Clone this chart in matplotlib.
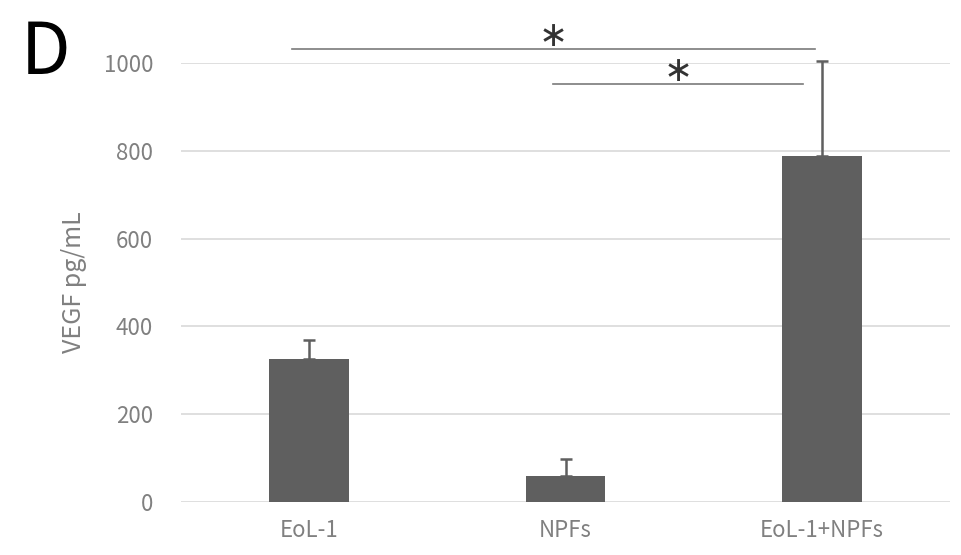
import matplotlib
matplotlib.use('Agg')
import matplotlib.pyplot as plt

plt.rcParams['font.family'] = ['Noto Sans CJK JP', 'DejaVu Sans']

groups = ['EoL-1', 'NPFs', 'EoL-1+NPFs']
vegf = [325, 59, 789]
vegf_err = [43, 39, 216]

# significance brackets: (left group, right group, height)
brackets = [(0, 2, 1032), (1, 2, 952)]
yticks = [0, 200, 400, 600, 800, 1000]

bar_color = '#5f5f5f'
text_grey = '#808080'

fig = plt.figure(figsize=(9.61, 5.55), dpi=100)
ax = fig.add_axes([0.1883, 0.0955, 0.8003, 0.791])

x = list(range(len(groups)))
ax.bar(x, vegf, width=0.31, color=bar_color, zorder=3)
eb = ax.errorbar(x, vegf, yerr=[[0] * len(vegf), vegf_err], fmt='none',
                 ecolor=bar_color, elinewidth=1.8, capsize=4, capthick=1.8,
                 zorder=4)
for artist in eb.lines[1] + eb.lines[2]:
    artist.set_clip_on(False)

ax.set_xlim(-0.5, 2.5)
ax.set_ylim(0, 1000)
ax.set_yticks(yticks)
ax.set_xticks(x)
ax.set_xticklabels(groups)
ax.grid(axis='y', color='#d9d9d9', linewidth=1.2, zorder=0)
for s in ax.spines.values():
    s.set_visible(False)
ax.tick_params(length=0, labelsize=16, colors=text_grey, pad=12)
ax.tick_params(axis='y', pad=20)
ax.set_ylabel('VEGF pg/mL', fontsize=18, color=text_grey, labelpad=12)

# brackets drawn slightly inside the bar centres as in the original
lefts = {0: -0.066, 1: -0.047}
rights = {0: -0.027, 1: -0.074}
for i, (g1, g2, h) in enumerate(brackets):
    x1 = g1 + lefts[i]
    x2 = g2 + rights[i]
    ax.plot([x1, x2], [h, h], color='#7a7a7a', linewidth=1.2, clip_on=False)
    ax.text((x1 + x2) / 2, h + 30, '\u2217', ha='center', va='center',
            fontsize=25, color='#333333', family='DejaVu Sans', clip_on=False)

fig.text(0.022, 0.903, 'D', fontsize=52, ha='left', va='center', color='black')

fig.savefig('out.png', dpi=100)
